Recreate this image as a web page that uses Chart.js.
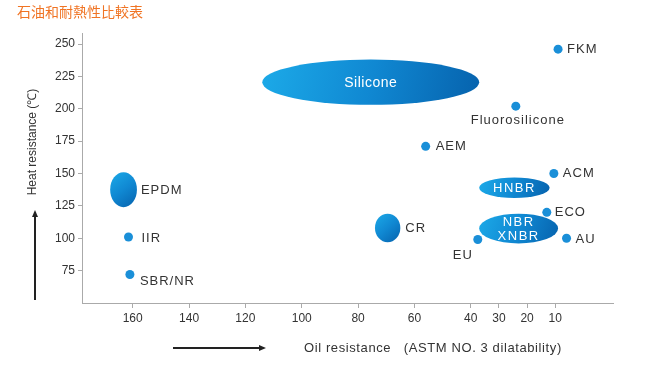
<!DOCTYPE html>
<html>
<head>
<meta charset="utf-8">
<title>石油和耐熱性比較表</title>
<script src="https://cdn.jsdelivr.net/npm/chart.js@4.4.0/dist/chart.umd.min.js"></script>
<style>
  html, body { margin: 0; padding: 0; background: #fff; }
  #wrap { width: 648px; height: 374px; }
</style>
</head>
<body>
<div id="wrap"><canvas id="rubberChart" width="648" height="374"></canvas></div>
<script>
const chartTitle = "石油和耐熱性比較表";
const xTitle = "Oil resistance   (ASTM NO. 3 dilatability)";
const yTitle = "Heat resistance (℃)";

const oilTicks = [160, 140, 120, 100, 80, 60, 40, 30, 20, 10];
const heatTicks = [75, 100, 125, 150, 175, 200, 225, 250];

// materials shown as a single dot
const materials = ["FKM", "Fluorosilicone", "AEM", "ACM", "ECO", "AU", "EU", "IIR", "SBR/NR"];
const oilSwell = [9, 24, 56, 10.5, 13, 6, 37.5, 161.5, 161];
const heatLimit = [246, 202, 171, 150, 120, 100, 99, 101, 72];

// materials that cover a range (drawn as ellipses)
const rangeNames = ["Silicone", "EPDM", "CR", "HNBR", "NBR\nXNBR"];
const rangeOilMin = [37, 158.5, 65, 12, 9];
const rangeOilMax = [114, 168, 74, 37, 37];
const rangeHeatMin = [203, 124, 97, 131, 96];
const rangeHeatMax = [238, 151, 119, 147, 119];

const textFont = '"Liberation Sans", Arial, sans-serif';
const dotColor = '#1a8fd8';

// where each label sits relative to its mark
const dotLabelPos = {
  "FKM": { dx: 9, dy: 0, align: 'left' },
  "Fluorosilicone": { dx: 2, dy: 14, align: 'center' },
  "AEM": { dx: 10, dy: 0, align: 'left' },
  "ACM": { dx: 9, dy: 0, align: 'left' },
  "ECO": { dx: 8, dy: 0, align: 'left' },
  "AU": { dx: 9, dy: 1, align: 'left' },
  "EU": { dx: -15, dy: 16, align: 'center' },
  "IIR": { dx: 13, dy: 1, align: 'left' },
  "SBR/NR": { dx: 10, dy: 7, align: 'left' }
};
const rangeLabelOutside = { "EPDM": 4, "CR": 5 };

const rubberLabels = {
  id: 'rubberLabels',
  beforeDatasetsDraw(chart) {
    const { ctx, scales: { x, y } } = chart;
    ctx.save();
    rangeNames.forEach((name, i) => {
      const left = x.getPixelForValue(rangeOilMax[i]);
      const right = x.getPixelForValue(rangeOilMin[i]);
      const top = y.getPixelForValue(rangeHeatMax[i]);
      const bottom = y.getPixelForValue(rangeHeatMin[i]);
      const cx = (left + right) / 2, cy = (top + bottom) / 2;
      const grad = ctx.createLinearGradient(left, top, right, bottom);
      grad.addColorStop(0, '#1caae8');
      grad.addColorStop(0.5, '#1088d2');
      grad.addColorStop(1, '#0662ad');
      ctx.fillStyle = grad;
      ctx.beginPath();
      ctx.ellipse(cx, cy, (right - left) / 2, (bottom - top) / 2, 0, 0, Math.PI * 2);
      ctx.fill();

      ctx.textBaseline = 'middle';
      if (rangeLabelOutside[name] !== undefined) {
        ctx.fillStyle = '#333';
        ctx.font = '13px ' + textFont;
        ctx.letterSpacing = '1px';
        ctx.textAlign = 'left';
        ctx.fillText(name, right + rangeLabelOutside[name], cy + 1);
      } else {
        ctx.fillStyle = '#fff';
        ctx.font = (name === 'Silicone' ? '14px ' : '13px ') + textFont;
        ctx.letterSpacing = name === 'Silicone' ? '0.5px' : '1.5px';
        ctx.textAlign = 'center';
        const lines = name.split('\n');
        lines.forEach((line, k) => {
          ctx.fillText(line, cx, cy + (k - (lines.length - 1) / 2) * 14 + 1);
        });
      }
    });
    ctx.restore();
  },
  afterDatasetsDraw(chart) {
    const { ctx } = chart;
    const meta = chart.getDatasetMeta(0);
    ctx.save();
    ctx.font = '13px ' + textFont;
    ctx.letterSpacing = '1px';
    ctx.fillStyle = '#333';
    ctx.textBaseline = 'middle';
    meta.data.forEach((pt, i) => {
      const pos = dotLabelPos[materials[i]];
      ctx.textAlign = pos.align;
      ctx.fillText(materials[i], pt.x + pos.dx, pt.y + pos.dy);
    });
    ctx.restore();
  },
  afterDraw(chart) {
    const { ctx } = chart;
    ctx.save();
    // title
    ctx.font = '14px "Noto Sans CJK TC", sans-serif';
    ctx.fillStyle = '#f07424';
    ctx.textBaseline = 'middle';
    ctx.textAlign = 'left';
    ctx.fillText(chartTitle, 17, 12);

    // x axis title with arrow
    ctx.fillStyle = '#333';
    ctx.font = '13px ' + textFont;
    ctx.letterSpacing = '0.6px';
    ctx.fillText(xTitle, 304, 348);
    ctx.strokeStyle = '#222';
    ctx.fillStyle = '#222';
    ctx.lineWidth = 2;
    ctx.beginPath();
    ctx.moveTo(173, 348);
    ctx.lineTo(260, 348);
    ctx.stroke();
    ctx.beginPath();
    ctx.moveTo(266, 348);
    ctx.lineTo(259, 345);
    ctx.lineTo(259, 351);
    ctx.closePath();
    ctx.fill();

    // y axis title with arrow
    ctx.beginPath();
    ctx.moveTo(35, 300);
    ctx.lineTo(35, 216);
    ctx.stroke();
    ctx.beginPath();
    ctx.moveTo(35, 210);
    ctx.lineTo(32, 217);
    ctx.lineTo(38, 217);
    ctx.closePath();
    ctx.fill();

    ctx.translate(33, 142);
    ctx.rotate(-Math.PI / 2);
    ctx.fillStyle = '#333';
    ctx.font = '12px ' + textFont;
    ctx.letterSpacing = '0px';
    ctx.textAlign = 'center';
    ctx.fillText(yTitle, 0, 0);
    ctx.restore();
  }
};

new Chart(document.getElementById('rubberChart'), {
  type: 'scatter',
  data: {
    datasets: [{
      data: materials.map((m, i) => ({ x: oilSwell[i], y: heatLimit[i] })),
      backgroundColor: dotColor,
      borderWidth: 0,
      pointRadius: 4.5
    }]
  },
  options: {
    responsive: false,
    animation: false,
    layout: { padding: { left: 0, right: 35, top: 33, bottom: 0 } },
    plugins: { legend: { display: false }, tooltip: { enabled: false } },
    scales: {
      x: {
        type: 'linear',
        reverse: true,
        min: -10.5,
        max: 178,
        afterBuildTicks: s => { s.ticks = oilTicks.map(v => ({ value: v })); },
        afterFit: s => { s.height = 71; },
        grid: { drawOnChartArea: false, tickLength: 5, color: '#aaa' },
        border: { color: '#aaa' },
        ticks: { color: '#333', padding: 3, autoSkip: false, maxRotation: 0, font: { family: textFont, size: 12 } }
      },
      y: {
        min: 50,
        max: 258.5,
        afterBuildTicks: s => { s.ticks = heatTicks.map(v => ({ value: v })); },
        afterFit: s => { s.width = 82; },
        grid: { drawOnChartArea: false, tickLength: 4, color: '#aaa' },
        border: { color: '#aaa' },
        ticks: { color: '#333', padding: 3, font: { family: textFont, size: 12 } }
      }
    }
  },
  plugins: [rubberLabels]
});
</script>
</body>
</html>
